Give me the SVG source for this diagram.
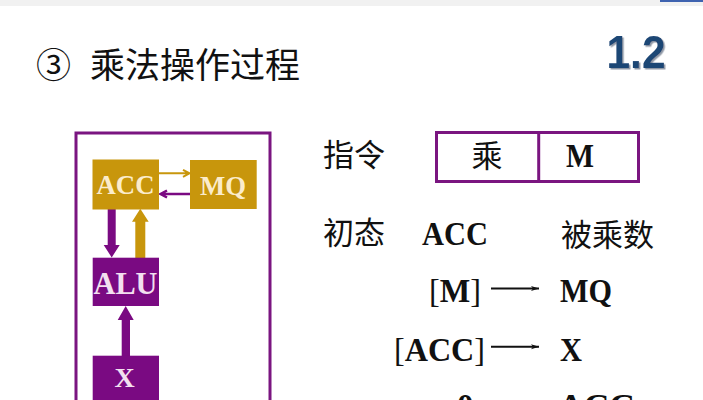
<svg xmlns="http://www.w3.org/2000/svg" width="703" height="400" viewBox="0 0 703 400">
<style>
.serif{font-family:"Liberation Serif","Noto Sans CJK SC",serif;font-weight:700;fill:#111;font-size:33px}
.cjk{font-family:"Noto Sans CJK SC",sans-serif;font-weight:400;fill:#111}
.thin{font-weight:400}
.box{fill:none;stroke:#7a1580;stroke-width:3}
.nl{font-family:"Liberation Serif",serif;font-weight:700;text-anchor:middle}
.gold{fill:#c8960c}
.purple{fill:#7a0a82}
</style>
<defs>
<marker id="thin" markerUnits="userSpaceOnUse" markerWidth="10" markerHeight="8" refX="8" refY="4" orient="auto"><path d="M0 1.500 L8 4 L0 6.500 L2 4Z" fill="#111"/></marker>
<filter id="soft" x="-10%" y="-10%" width="125%" height="125%"><feDropShadow dx="1.500" dy="1.500" stdDeviation="0.600" flood-color="#8f98a6"/></filter>
</defs>
<rect width="703" height="400" fill="#fff"/>
<rect x="0" y="0" width="703" height="6" fill="#f1f1f1"/>
<rect x="660" y="0" width="43" height="2" fill="#3f63b0"/>
<g id="title">
<text x="36" y="78" class="cjk" font-size="35">③</text>
<text x="90" y="78" class="cjk" font-size="35">乘法操作过程</text>
</g>
<g id="badge" style="font-family:'Liberation Sans',sans-serif;font-weight:700;font-size:46px">
<text x="606.500" y="68" fill="#1d4675" textLength="59" lengthAdjust="spacingAndGlyphs" filter="url(#soft)">1.2</text>
</g>
<g id="frame"><rect class="box" x="76" y="133" width="194" height="290"/></g>
<g id="connectors">
<path class="purple" d="M107.700 209V245H103.700L111.700 257.500L119.700 245H115.700V209Z"/>
<path class="gold" d="M135.300 258V221.700H132L140.300 208.700L148.700 221.700H145.300V258Z"/>
<path class="purple" d="M121.700 356V320H117.700L125.700 306L133.700 320H130V356Z"/>
<path d="M159 173.300H189M183 169.800L189.500 173.300L183 176.800" fill="none" stroke="#c8960c" stroke-width="2"/>
<path d="M190 194H161M167 190.500L160.500 194L167 197.500" fill="none" stroke="#7a0a82" stroke-width="2.500"/>
<line x1="491" y1="288.500" x2="539" y2="288.500" stroke="#111" stroke-width="2" marker-end="url(#thin)"/>
<line x1="491" y1="346.700" x2="539" y2="346.700" stroke="#111" stroke-width="2" marker-end="url(#thin)"/>
</g>
<g id="acc"><rect class="gold" x="92.500" y="159.500" width="66.500" height="50"/><text class="nl" x="125.500" y="193.500" font-size="28" fill="#fbeccb" textLength="58" lengthAdjust="spacingAndGlyphs">ACC</text></g>
<g id="mq"><rect class="gold" x="190" y="160" width="66.700" height="49"/><text class="nl" x="223" y="195" font-size="28" fill="#fbeccb" textLength="46" lengthAdjust="spacingAndGlyphs">MQ</text></g>
<g id="alu"><rect class="purple" x="92.700" y="257.700" width="66.300" height="48.300"/><text class="nl" x="125.500" y="294" font-size="31" fill="#f3e0f0" textLength="64" lengthAdjust="spacingAndGlyphs">ALU</text></g>
<g id="x"><rect class="purple" x="92.700" y="355.700" width="66.300" height="50"/><text class="nl" x="124.500" y="387" font-size="28" fill="#f3e0f0">X</text></g>
<g id="instruction">
<rect class="box" x="436.500" y="132.500" width="202" height="49"/>
<line x1="538.700" y1="132" x2="538.700" y2="182" stroke="#7a1580" stroke-width="3"/>
<text x="487" y="167" class="cjk" font-size="31" text-anchor="middle">乘</text>
<text x="566" y="167" class="serif" textLength="28" lengthAdjust="spacingAndGlyphs">M</text>
</g>
<g id="labels">
<text x="323" y="166" class="cjk" font-size="31">指令</text>
<text x="323" y="244" class="cjk" font-size="31">初态</text>
<text x="422" y="245" class="serif" textLength="66" lengthAdjust="spacingAndGlyphs">ACC</text>
<text x="561" y="246" class="cjk" font-size="31">被乘数</text>
<text x="429" y="301.500" class="serif" textLength="52" lengthAdjust="spacingAndGlyphs"><tspan class="thin">[</tspan>M<tspan class="thin">]</tspan></text>
<text x="560" y="301.500" class="serif" textLength="52" lengthAdjust="spacingAndGlyphs">MQ</text>
<text x="394" y="360.500" class="serif" textLength="91" lengthAdjust="spacingAndGlyphs"><tspan class="thin">[</tspan>ACC<tspan class="thin">]</tspan></text>
<text x="560" y="360.500" class="serif" textLength="22" lengthAdjust="spacingAndGlyphs">X</text>
<text x="457" y="417" class="serif">0</text>
<text x="558" y="417" class="serif" textLength="77" lengthAdjust="spacingAndGlyphs">ACC</text>
</g>
</svg>
